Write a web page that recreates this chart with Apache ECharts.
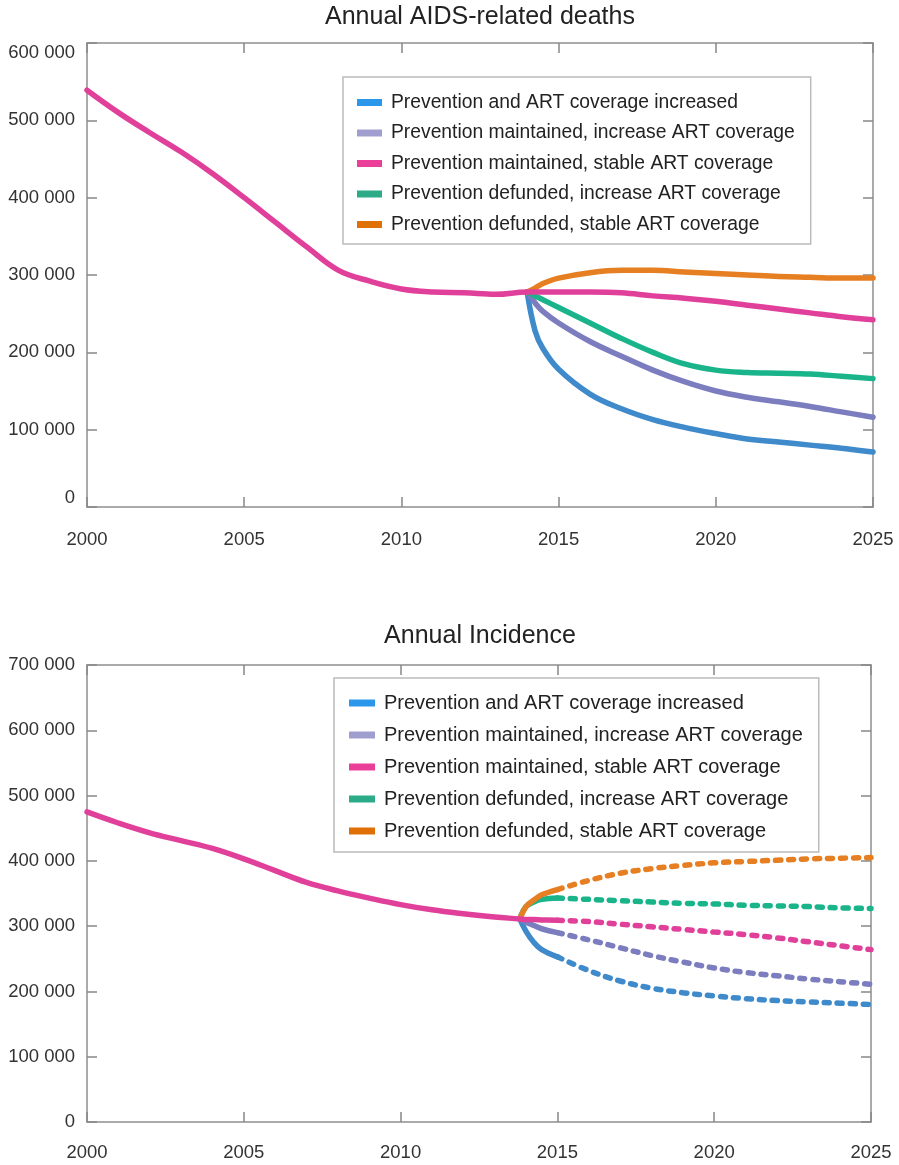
<!DOCTYPE html>
<html>
<head>
<meta charset="utf-8">
<script src="https://cdn.jsdelivr.net/npm/echarts@6/dist/echarts.min.js"></script>
<style>
html,body{margin:0;padding:0;background:#fff;}
#chart{width:899px;height:1165px;}
</style>
</head>
<body>
<div id="chart"></div>
<script>
// ---------- DATA ----------
const scenarioNames = [
  'Prevention and ART coverage increased',
  'Prevention maintained, increase ART coverage',
  'Prevention maintained, stable ART coverage',
  'Prevention defunded, increase ART coverage',
  'Prevention defunded, stable ART coverage'
];
const xTicks = [2000, 2005, 2010, 2015, 2020, 2025];

// Annual AIDS-related deaths
const deathsHistYears = [2000,2001,2002,2003,2004,2005,2006,2007,2008,2009,2010,2011,2012,2013];
const deathsHist      = [539000,510000,484000,459000,431000,400000,368000,336000,306000,292000,282000,278000,277000,275000];
const deathsProjYears = [2014,2014.25,2014.5,2015,2016,2017,2018,2019,2020,2021,2022,2023,2024,2025];
const deathsBlue   = [278000,228000,205000,178000,146000,127000,113000,103000,95000,88000,84000,80000,76000,71000];
const deathsPurple = [278000,264000,253000,238000,214000,195000,177000,162000,150000,142000,136000,130000,123000,116000];
const deathsPink   = [278000,278000,278000,278000,278000,277000,273000,270000,266000,261000,256000,251000,246000,242000];
const deathsGreen  = [278000,273000,268000,258000,238000,218000,200000,185000,177000,174000,173000,172000,169000,166000];
const deathsOrange = [278000,283000,289000,296000,303000,306000,306000,304000,302000,300000,298000,297000,296000,296000];

// Annual Incidence
const incHistYears = [2000,2001,2002,2003,2004,2005,2006,2007,2008,2009,2010,2011,2012,2013];
const incHist      = [475000,458000,443000,431000,419000,403000,385000,367000,354000,343000,333000,325000,319000,314000];
const incProjYears = [2013.8,2014,2014.25,2014.5,2015,2016,2017,2018,2019,2020,2021,2022,2023,2024,2025];
const incBlue   = [311000,292000,275000,264000,253000,232000,216000,205000,198000,193000,189000,186000,184000,182000,180000];
const incPurple = [311000,306000,301000,296000,290000,279000,267000,255000,245000,236000,229000,224000,219000,215000,211000];
const incPink   = [311000,310000,310000,309500,309000,307000,303000,299000,295000,291000,287000,282000,276000,270000,264000];
const incGreen  = [311000,330000,337000,341000,343000,341000,339000,337000,335000,334000,332000,331000,330000,328000,327000];
const incOrange = [311000,330000,340000,348000,356000,370000,381000,388000,393000,397000,399000,401000,403000,404000,405000];
const dashStartYear = 2015;

// ---------- STYLE ----------
const lineColors   = ['#3e8acb','#7b7dbf','#e0409a','#19b48a','#e67e22'];
const legendColors = ['#2b97ea','#a09ecf','#ea3f99','#2bab88','#e07006'];
const FONT = "'Liberation Sans', Arial, sans-serif";

function pairs(xs, ys){ return xs.map((x,i)=>[x, ys[i]]); }
function fmt(v){ if (v === 0) return '0'; return Math.round(v/1000) + ' 000'; }

function lineSeries(idx, data, gridIndex, dashed, z){
  return {
    type: 'line',
    name: scenarioNames[idx],
    xAxisIndex: gridIndex*2,
    yAxisIndex: gridIndex*2,
    data: data,
    showSymbol: false,
    symbol: 'none',
    smooth: 0.4,
    z: z,
    silent: true,
    itemStyle: { color: legendColors[idx] },
    lineStyle: dashed
      ? { color: lineColors[idx], width: 5.5, type: [5, 8], cap: 'round' }
      : { color: lineColors[idx], width: 5.5, cap: 'round', join: 'round' }
  };
}

// draw order: blue, purple, green, orange, pink (pink on top)
const drawOrder = [0,1,3,4,2];
const series = [];

// top chart
const deathsProj = [deathsBlue, deathsPurple, deathsPink, deathsGreen, deathsOrange];
drawOrder.forEach((idx, k) => {
  let d = pairs(deathsProjYears, deathsProj[idx]);
  if (idx === 2) d = pairs(deathsHistYears, deathsHist).concat(d);
  series.push(lineSeries(idx, d, 0, false, 2 + k));
});

// bottom chart
const incProj = [incBlue, incPurple, incPink, incGreen, incOrange];
drawOrder.forEach((idx, k) => {
  let all = pairs(incProjYears, incProj[idx]);
  let solid = all.filter(p => p[0] <= dashStartYear);
  const dash = all.filter(p => p[0] >= dashStartYear);
  if (idx === 2) solid = pairs(incHistYears, incHist).concat(solid);
  series.push(lineSeries(idx, solid, 1, false, 2 + k));
  series.push(lineSeries(idx, dash, 1, true, 2 + k));
});

const axisLineStyle = { color: '#aaaaaa', width: 2 };
const tickStyle = { color: '#888888', width: 1.5 };

function xAxes(gridIndex, labelMargin){
  return [
    { type: 'value', gridIndex, min: 2000, max: 2025, interval: 5, position: 'bottom',
      axisLine: { show: true, onZero: false, lineStyle: axisLineStyle },
      axisTick: { show: true, inside: true, length: 10, lineStyle: tickStyle },
      axisLabel: { show: true, margin: labelMargin, color: '#333', fontSize: 18.5, fontFamily: FONT, formatter: v => String(v) },
      splitLine: { show: false } },
    { type: 'value', gridIndex, min: 2000, max: 2025, interval: 5, position: 'top',
      axisLine: { show: true, onZero: false, lineStyle: axisLineStyle },
      axisTick: { show: true, inside: true, length: 10, lineStyle: tickStyle },
      axisLabel: { show: false }, splitLine: { show: false } }
  ];
}
function yAxes(gridIndex, max, squeezeEnds){
  const lab = { show: true, margin: 12, color: '#333', fontSize: 18.5, fontFamily: FONT, formatter: fmt };
  if (squeezeEnds) { lab.verticalAlignMaxLabel = 'top'; lab.verticalAlignMinLabel = 'bottom'; }
  return [
    { type: 'value', gridIndex, min: 0, max: max, interval: 100000, position: 'left',
      axisLine: { show: true, onZero: false, lineStyle: axisLineStyle },
      axisTick: { show: true, inside: true, length: 10, lineStyle: tickStyle },
      axisLabel: lab,
      splitLine: { show: false } },
    { type: 'value', gridIndex, min: 0, max: max, interval: 100000, position: 'right',
      axisLine: { show: true, onZero: false, lineStyle: axisLineStyle },
      axisTick: { show: true, inside: true, length: 10, lineStyle: tickStyle },
      axisLabel: { show: false }, splitLine: { show: false } }
  ];
}

function legendData(){
  return scenarioNames.map((n,i)=>({ name: n, itemStyle: { color: legendColors[i], borderWidth: 0 } }));
}

const option = {
  animation: false,
  backgroundColor: '#ffffff',
  title: [
    { text: 'Annual AIDS-related deaths', left: 480, top: 5, textAlign: 'center', padding: 0,
      textStyle: { fontSize: 25, fontWeight: 'normal', color: '#222', fontFamily: FONT } },
    { text: 'Annual Incidence', left: 480, top: 624, textAlign: 'center', padding: 0,
      textStyle: { fontSize: 25, fontWeight: 'normal', color: '#222', fontFamily: FONT } }
  ],
  legend: [
    { data: legendData(), orient: 'vertical', left: 343, top: 77, icon: 'rect',
      itemWidth: 25, itemHeight: 7, itemGap: 11.5,
      padding: [16, 16, 10, 14], borderColor: '#bbbbbb', borderWidth: 1.5, backgroundColor: '#fff',
      selectedMode: false,
      textStyle: { fontSize: 19.3, color: '#222', fontFamily: FONT, padding: [0,0,0,4] } },
    { data: legendData(), orient: 'vertical', left: 334, top: 678, icon: 'rect',
      itemWidth: 26, itemHeight: 7, itemGap: 12,
      padding: [15, 16, 11, 15], borderColor: '#bbbbbb', borderWidth: 1.5, backgroundColor: '#fff',
      selectedMode: false,
      textStyle: { fontSize: 20, color: '#222', fontFamily: FONT, padding: [0,0,0,4] } }
  ],
  grid: [
    { left: 87, right: 26, top: 43, height: 464 },
    { left: 87, right: 28, top: 665, height: 457 }
  ],
  xAxis: xAxes(0, 23).concat(xAxes(1, 21)),
  yAxis: yAxes(0, 600000, true).concat(yAxes(1, 700000, false)),
  series: series
};

const chart = echarts.init(document.getElementById('chart'), null, { renderer: 'canvas' });
chart.setOption(option);
</script>
</body>
</html>
